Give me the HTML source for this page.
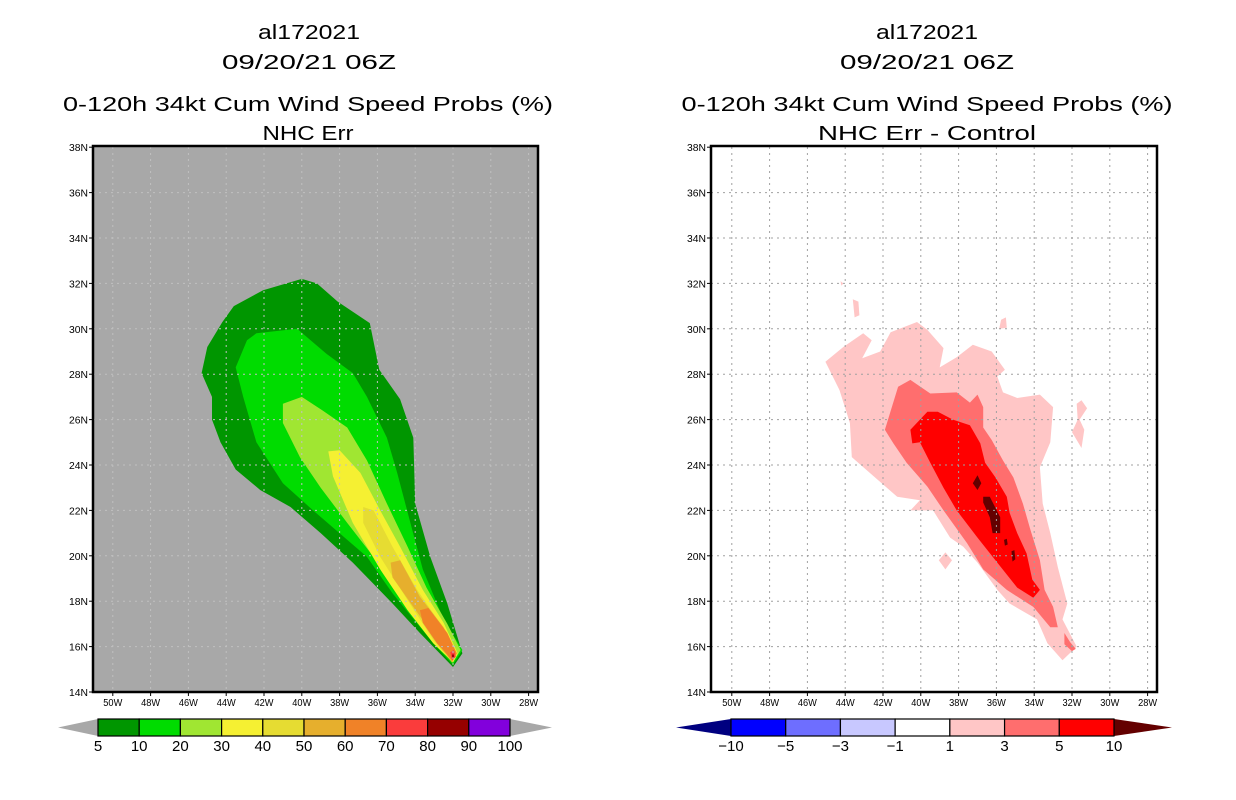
<!DOCTYPE html>
<html><head><meta charset="utf-8"><style>
html,body{margin:0;padding:0;background:#fff;}
svg{display:block;font-family:"Liberation Sans",sans-serif;}
</style></head><body>
<svg id="chart" width="1236" height="800" viewBox="0 0 1236 800" xmlns="http://www.w3.org/2000/svg">
<rect x="0" y="0" width="1236" height="800" fill="#fff"/>
<g font-size="20" fill="#000" text-anchor="middle">
<text x="309" y="39" textLength="102" lengthAdjust="spacingAndGlyphs">al172021</text>
<text x="309" y="69" textLength="174" lengthAdjust="spacingAndGlyphs">09/20/21 06Z</text>
<text x="308" y="111" textLength="490" lengthAdjust="spacingAndGlyphs">0-120h 34kt Cum Wind Speed Probs (%)</text>
<text x="308" y="140" textLength="91" lengthAdjust="spacingAndGlyphs">NHC Err</text>
</g>
<g font-size="20" fill="#000" text-anchor="middle">
<text x="927" y="39" textLength="102" lengthAdjust="spacingAndGlyphs">al172021</text>
<text x="927" y="69" textLength="174" lengthAdjust="spacingAndGlyphs">09/20/21 06Z</text>
<text x="927" y="111" textLength="491" lengthAdjust="spacingAndGlyphs">0-120h 34kt Cum Wind Speed Probs (%)</text>
<text x="927" y="140" textLength="218" lengthAdjust="spacingAndGlyphs">NHC Err - Control</text>
</g>
<g id="left"></g>
<g id="right"></g>
</svg>
<script>
// ---- data ----
const lonTicks=[-50,-48,-46,-44,-42,-40,-38,-36,-34,-32,-30,-28];
const latTicks=[14,16,18,20,22,24,26,28,30,32,34,36,38];
const leftLevels=[5,10,20,30,40,50,60,70,80,90,100];
const leftColors=["#009600","#00dc00","#a0e632","#f5f032","#e6dc32","#e6af2d","#f08228","#fa3c3c","#960000","#8200dc"];
const rightLevels=[-10,-5,-3,-1,1,3,5,10];
const rightColors=["#0000ff","#6e6eff","#c8c8ff","#ffffff","#ffc6c6","#ff6e6e","#ff0000"];
const p05=[[-40.0,32.2],[-42.05,31.7],[-43.6,31.0],[-44.2,30.3],[-45.0,29.2],[-45.3,28.05],[-44.75,27.0],[-44.75,26.0],[-44.3,25.0],[-43.5,23.8],[-42.2,22.9],[-40.6,22.15],[-39.0,21.0],[-37.3,19.7],[-35.2,17.9],[-33.75,16.6],[-32.0,15.1],[-31.5,15.7],[-32.3,17.9],[-33.2,19.95],[-34.0,22.3],[-34.1,25.2],[-34.8,26.9],[-35.9,28.2],[-36.4,30.25],[-38.1,31.2],[-39.2,32.0]];
const p10=[[-42.4,29.8],[-40.25,30.0],[-38.7,28.9],[-37.3,28.05],[-36.55,27.0],[-35.5,25.2],[-34.95,23.65],[-34.3,21.6],[-33.6,19.4],[-32.5,17.2],[-31.5,15.85],[-32.0,15.2],[-33.05,16.15],[-35.2,18.35],[-36.55,19.95],[-39.4,22.0],[-41.0,23.2],[-42.4,25.0],[-43.1,27.0],[-43.5,28.3],[-42.9,29.5]];
const p20=[[-41.0,26.7],[-40.0,27.0],[-38.9,26.4],[-37.6,25.65],[-36.55,24.2],[-35.5,22.3],[-34.4,20.4],[-33.4,18.6],[-32.3,17.0],[-31.6,15.85],[-32.0,15.3],[-32.85,16.15],[-34.4,17.9],[-36.2,19.95],[-37.6,21.45],[-39.0,23.0],[-40.1,24.35],[-41.0,25.85]];
const p30=[[-38.6,24.6],[-38.0,24.65],[-36.9,23.65],[-35.85,22.0],[-34.8,20.4],[-33.6,18.5],[-32.5,17.05],[-31.75,15.7],[-32.0,15.3],[-33.05,16.15],[-34.4,17.6],[-35.85,19.4],[-37.3,21.45],[-38.35,23.5]];
const p40=[[-36.75,22.15],[-36.2,22.0],[-35.2,20.4],[-33.9,18.5],[-32.7,17.05],[-31.8,15.7],[-32.05,15.3],[-33.05,16.3],[-34.4,18.05],[-35.85,19.95],[-36.75,21.45]];
const p50=[[-35.3,19.7],[-34.8,19.8],[-33.75,18.2],[-32.5,16.85],[-31.8,15.7],[-32.05,15.3],[-32.85,16.3],[-34.1,17.75],[-35.2,19.05]];
const p60=[[-33.75,17.6],[-33.3,17.7],[-32.3,16.6],[-31.8,15.7],[-32.05,15.4],[-32.85,16.15],[-33.6,17.05]];
const p70=[[-32.15,15.75],[-31.95,15.85],[-31.85,15.55],[-32.05,15.4]];
const p80=[[-32.05,15.65],[-31.95,15.65],[-31.95,15.5],[-32.05,15.5]];
const d1=[[-45.05,28.55],[-44.1,29.2],[-43.05,29.8],[-42.6,29.5],[-43.1,28.7],[-42.15,29.0],[-41.6,29.85],[-40.2,30.3],[-39.65,29.95],[-38.8,29.15],[-39.0,28.3],[-38.1,28.75],[-37.25,29.3],[-36.25,29.0],[-35.55,28.2],[-35.95,27.9],[-35.65,27.2],[-34.9,26.95],[-33.7,27.1],[-33.0,26.55],[-33.15,25.0],[-33.7,23.9],[-33.55,22.3],[-33.15,21.0],[-32.75,19.5],[-32.25,17.9],[-32.5,17.2],[-31.75,16.0],[-32.5,15.4],[-33.3,16.15],[-33.85,17.2],[-35.3,17.9],[-35.95,18.5],[-37.0,19.7],[-37.75,20.4],[-38.45,20.8],[-39.35,22.0],[-40.55,22.0],[-40.05,22.45],[-41.25,22.6],[-42.7,23.65],[-43.65,24.35],[-43.75,25.85],[-44.3,27.3]];
const d1b=[[-31.75,26.7],[-31.5,26.85],[-31.2,26.5],[-31.6,26.0],[-31.35,25.55],[-31.5,24.75],[-32.0,25.45],[-31.7,26.0]];
const d1c=[[-38.7,20.15],[-38.35,19.8],[-38.7,19.4],[-39.05,19.8]];
const d1d=[[-43.6,31.3],[-43.3,31.2],[-43.25,30.6],[-43.5,30.5]];
const d1e=[[-44.25,32.1],[-44.1,32.0],[-44.2,31.9]];
const d1f=[[-35.75,30.4],[-35.5,30.5],[-35.45,30.05],[-35.85,30.0]];
const d3=[[-41.9,25.55],[-41.2,27.45],[-40.55,27.75],[-39.5,27.15],[-38.1,27.2],[-37.4,26.75],[-37.0,27.1],[-36.7,26.55],[-36.7,25.65],[-36.25,25.1],[-35.65,24.2],[-35.1,23.45],[-34.6,22.3],[-34.2,21.15],[-33.7,19.8],[-33.45,18.5],[-33.0,17.75],[-32.75,16.85],[-33.15,16.85],[-34.05,17.75],[-35.45,18.5],[-36.7,19.4],[-37.55,20.55],[-38.8,22.0],[-39.65,23.05],[-40.75,24.1],[-41.45,24.95]];
const d3b=[[-32.4,16.6],[-32.1,16.2],[-31.8,15.9],[-32.0,15.8],[-32.4,16.1]];
const d5=[[-40.55,25.55],[-39.65,26.35],[-39.1,26.35],[-38.3,26.0],[-37.4,25.75],[-36.85,24.95],[-36.6,24.1],[-36.05,23.45],[-35.45,22.6],[-35.3,21.9],[-34.9,21.0],[-34.4,20.1],[-34.1,18.95],[-33.7,18.5],[-34.05,18.15],[-34.9,18.6],[-35.95,19.7],[-37.0,20.8],[-38.1,22.0],[-38.8,23.0],[-39.5,24.1],[-40.05,25.0],[-40.45,24.95]];
const d10a=[[-37.25,23.2],[-37.0,23.55],[-36.8,23.2],[-37.0,22.9]];
const d10b=[[-36.7,22.6],[-36.35,22.6],[-35.8,21.7],[-35.8,21.0],[-36.2,21.0],[-36.35,21.7],[-36.7,22.35]];
const d10c=[[-35.6,20.7],[-35.45,20.75],[-35.4,20.5],[-35.55,20.45]];
const d10d=[[-35.2,20.2],[-35.05,20.25],[-35.0,19.85],[-35.15,19.75]];

// ---- scales ----
const NS="http://www.w3.org/2000/svg";
const LON0=-32, PXLON=18.9, LAT0=14, PXLAT=22.7, Y0=692;
function xs(lon,ox){return ox+(lon-LON0)*PXLON;}
function ys(lat){return Y0-(lat-LAT0)*PXLAT;}
function mk(tag,attrs,parent){const e=document.createElementNS(NS,tag);for(const k in attrs)e.setAttribute(k,attrs[k]);parent.appendChild(e);return e;}
function poly(g,pts,ox,fill,name){
  const e=mk('polygon',{points:pts.map(p=>xs(p[0],ox).toFixed(1)+','+ys(p[1]).toFixed(1)).join(' '),fill:fill},g);
  
  
}
function panel(g,ox,fx0,fx1,bg,layers,gridColor){
  const clipId='clip'+ox;
  const defs=mk('defs',{},g);
  const cp=mk('clipPath',{id:clipId},defs);
  mk('rect',{x:fx0,y:146,width:fx1-fx0,height:546},cp);
  const bgr=mk('rect',{x:fx0,y:146,width:fx1-fx0,height:546,fill:bg},g);
  
  
  const cg=mk('g',{'clip-path':'url(#'+clipId+')'},g);
  
  
  layers.forEach(l=>poly(cg,l[0],ox,l[1],l[2]));
  const gg=mk('g',{stroke:gridColor,'stroke-width':1,'stroke-dasharray':'2,4'},g);
  
  
  lonTicks.forEach(t=>{const x=xs(t,ox);mk('line',{x1:x,x2:x,y1:147,y2:691},gg);});
  latTicks.forEach(t=>{const y=ys(t);if(t>14&&t<38)mk('line',{x1:fx0,x2:fx1,y1:y,y2:y},gg);});
  const fr=mk('rect',{x:fx0,y:146,width:fx1-fx0,height:546,fill:'none',stroke:'#000','stroke-width':2.5},g);
  
  
  const ax=mk('g',{'font-size':10,fill:'#000'},g);
  
  
  lonTicks.forEach(t=>{const x=xs(t,ox);mk('line',{x1:x,x2:x,y1:692,y2:696,stroke:'#000'},ax);
    const tx=mk('text',{x:x,y:706,'text-anchor':'middle',textLength:19,lengthAdjust:'spacingAndGlyphs'},ax);tx.textContent=(-t)+'W';
    
    });
  latTicks.forEach(t=>{const y=ys(t);mk('line',{x1:fx0-4,x2:fx0,y1:y,y2:y,stroke:'#000'},ax);
    const tx=mk('text',{x:fx0-5,y:y+4,'text-anchor':'end',textLength:19,lengthAdjust:'spacingAndGlyphs'},ax);tx.textContent=t+'N';
    
    });
}
function colorbar(g,x0,x1,tl,tr,colors,levels,lc,rc){
  const n=colors.length,w=(x1-x0)/n,y0=719,y1=736;
  const t1=mk('polygon',{points:`${tl},${(y0+y1)/2} ${x0},${y0} ${x0},${y1}`,fill:lc},g);
  
  
  const t2=mk('polygon',{points:`${tr},${(y0+y1)/2} ${x1},${y0} ${x1},${y1}`,fill:rc},g);
  
  
  colors.forEach((c,i)=>{const r=mk('rect',{x:x0+i*w,y:y0,width:w,height:y1-y0,fill:c,stroke:'#000','stroke-width':1.2},g);
    
    });
  levels.forEach((v,i)=>{const t=mk('text',{x:x0+i*w,y:751,'text-anchor':'middle','font-size':15,fill:'#000'},g);
    t.textContent=v<0?'\u2212'+(-v):String(v);
    
    });
}
const L=document.getElementById('left');


panel(L,453,93,538,'#a8a8a8',[[p05,leftColors[0],'prob-5'],[p10,leftColors[1],'prob-10'],[p20,leftColors[2],'prob-20'],[p30,leftColors[3],'prob-30'],[p40,leftColors[4],'prob-40'],[p50,leftColors[5],'prob-50'],[p60,leftColors[6],'prob-60'],[p70,leftColors[7],'prob-70'],[p80,leftColors[8],'prob-80']],'#c0c0c0');
const lcb=mk('g',{},L);


colorbar(lcb,98,510,58,552,leftColors,leftLevels,'#a8a8a8','#a8a8a8');
const R=document.getElementById('right');


panel(R,1072,711,1157,'#ffffff',[[d1,rightColors[4],'diff-1'],[d1b,rightColors[4],'diff-1-island'],[d1c,rightColors[4],'diff-1-island'],[d1d,rightColors[4],'diff-1-island'],[d1e,rightColors[4],'diff-1-island'],[d1f,rightColors[4],'diff-1-island'],[d3,rightColors[5],'diff-3'],[d3b,rightColors[5],'diff-3-patch'],[d5,rightColors[6],'diff-5'],[d10a,'#640000','diff-10'],[d10b,'#640000','diff-10'],[d10c,'#640000','diff-10'],[d10d,'#640000','diff-10']],'#a0a0a0');
const rcb=mk('g',{},R);


colorbar(rcb,731,1114,676,1172,rightColors,rightLevels,'#000080','#640000');
</script>
</body></html>
